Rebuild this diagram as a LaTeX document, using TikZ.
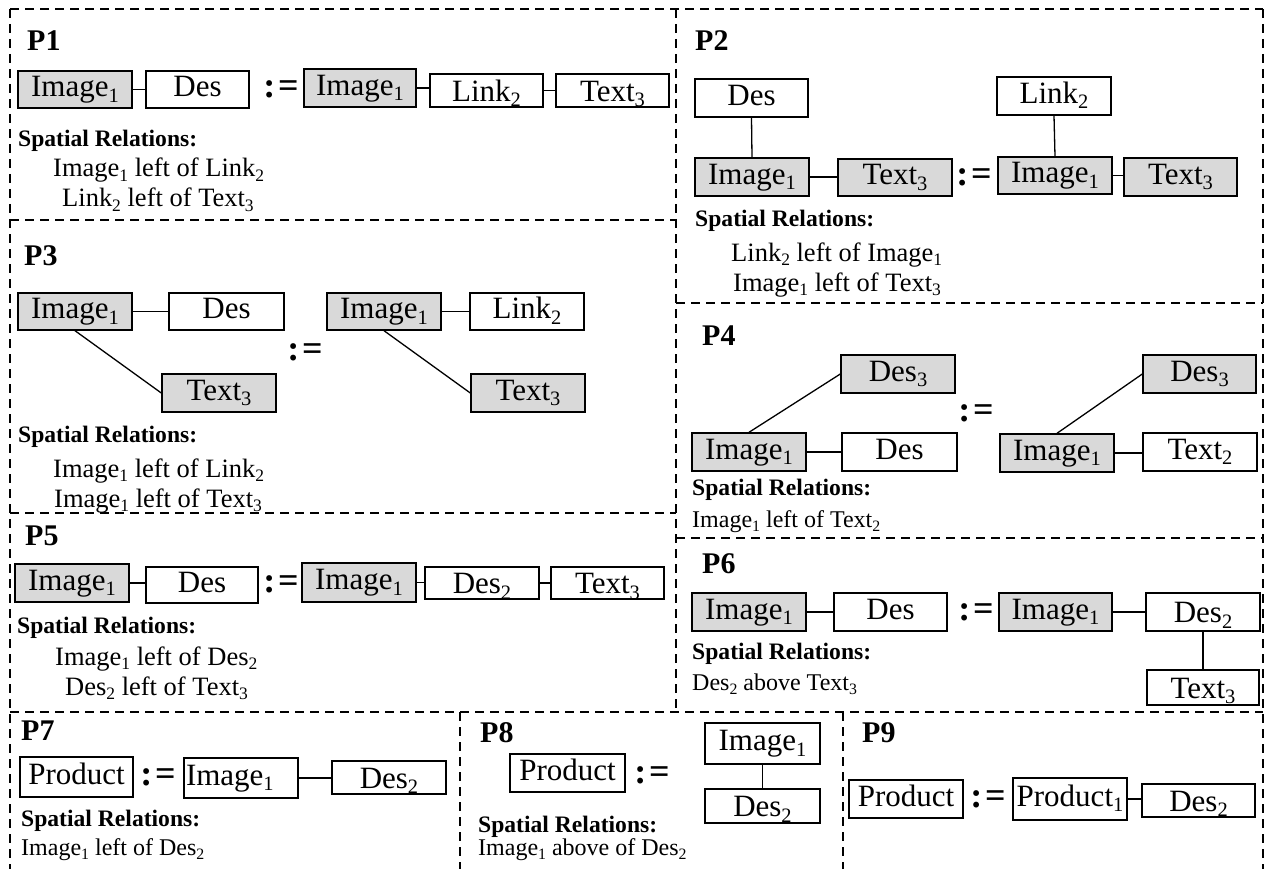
\documentclass[tikz,border=0pt]{standalone}
\usepackage{fontspec}
\setmainfont{Liberation Serif}
\usepackage{graphicx}

\definecolor{boxgray}{RGB}{217,217,217}

% lowered, reduced subscript in the text font
\newcommand\lsub[1]{\raisebox{-0.18em}{\scalebox{0.66}{#1}}}
% box node given by its corners: name, style, x1, y1, x2, y2, text
\newcommand\mkbox[7]{\node[#2, minimum width={#5-#3}, minimum height={#6-#4}] (#1) at ({(#3+#5)/2},{(#4+#6)/2}) {#7};}
% the production sign
\newcommand\prodsign{:\kern3pt=}

\tikzset{
  panelline/.style={dash pattern=on 9pt off 6pt, line width=1.3pt},
  bx/.style={draw=black, line width=1.4pt, inner sep=0pt,
             font=\fontsize{31}{31}\selectfont, text height=21.5pt, text depth=7pt},
  gbx/.style={bx, fill=boxgray},
  lowbx/.style={bx, text depth=0pt},
  conn/.style={line width=1.3pt},
  plabel/.style={anchor=base west, inner sep=0pt, font=\bfseries\fontsize{30}{30}\selectfont},
  srel/.style={anchor=base west, inner sep=0pt, font=\bfseries\fontsize{23.6}{24}\selectfont},
  rel/.style={anchor=base west, inner sep=0pt, font=\fontsize{26.5}{27}\selectfont},
  relsm/.style={anchor=base west, inner sep=0pt, font=\fontsize{24}{24}\selectfont},
  defeq/.style={inner sep=0pt, font=\bfseries\fontsize{36}{36}\selectfont},
}

\begin{document}
\begin{tikzpicture}[x=1pt, y=-1pt]
\useasboundingbox (0,0) rectangle (1266,869);
\fill[white] (0,0) rectangle (1266,869);

% ---------- panel frames ----------
\draw[panelline] (10,9) -- (1263,9);
\draw[panelline] (10,9) -- (10,869);
\draw[panelline] (1263,9) -- (1263,869);
\draw[panelline] (676,9) -- (676,712);
\draw[panelline] (10,220) -- (676,220);
\draw[panelline] (10,513) -- (676,513);
\draw[panelline] (676,303) -- (1263,303);
\draw[panelline] (676,538) -- (1263,538);
\draw[panelline] (10,712) -- (1263,712);
\draw[panelline] (460,712) -- (460,869);
\draw[panelline] (843,712) -- (843,869);

% ---------- P1 ----------
\node[plabel] (p1lab) at (27,51) {P1};
\mkbox{p1a}{gbx}{18}{71}{132}{108}{Image\lsub{1}}
\mkbox{p1b}{bx}{146}{71}{249}{108}{Des}
\node[defeq] (p1eq) at (281,89) {\prodsign};
\mkbox{p1c}{gbx}{304}{69}{416}{107}{Image\lsub{1}}
\mkbox{p1d}{lowbx}{430}{74}{543}{107}{Link\lsub{2}}
\mkbox{p1e}{lowbx}{556}{74}{669}{107}{Text\lsub{3}}
\draw[conn] (p1a.east) -- (p1a.east -| p1b.west);
\draw[conn] (p1c.east) -- (p1c.east -| p1d.west);
\draw[conn] (p1d.east) -- (p1d.east -| p1e.west);
\node[srel] (p1s) at (18,147) {Spatial Relations:};
\node[rel] (p1r1) at (53,177) {Image\lsub{1} left of Link\lsub{2}};
\node[rel] (p1r2) at (62,207) {Link\lsub{2} left of Text\lsub{3}};

% ---------- P2 ----------
\node[plabel] (p2lab) at (695,51) {P2};
\mkbox{p2a}{bx}{695}{79}{808}{117}{Des}
\mkbox{p2b}{gbx}{695}{158}{809}{196}{Image\lsub{1}}
\mkbox{p2c}{gbx}{838}{159}{952}{196}{Text\lsub{3}}
\node[defeq] (p2eq) at (974,177) {\prodsign};
\mkbox{p2d}{bx}{997}{77}{1111}{115}{Link\lsub{2}}
\mkbox{p2e}{gbx}{998}{157}{1112}{194}{Image\lsub{1}}
\mkbox{p2f}{gbx}{1124}{158}{1237}{196}{Text\lsub{3}}
\draw[conn] (p2a.south) -- (p2b.north);
\draw[conn] (p2b.east) -- (p2b.east -| p2c.west);
\draw[conn] (p2d.south) -- (p2e.north);
\draw[conn] (p2e.east) -- (p2e.east -| p2f.west);
\node[srel] (p2s) at (695,226) {Spatial Relations:};
\node[rel] (p2r1) at (731,261) {Link\lsub{2} left of Image\lsub{1}};
\node[rel] (p2r2) at (733,291) {Image\lsub{1} left of Text\lsub{3}};

% ---------- P3 ----------
\node[plabel] (p3lab) at (24,265) {P3};
\mkbox{p3a}{gbx}{18}{293}{132}{330}{Image\lsub{1}}
\mkbox{p3b}{bx}{169}{293}{284}{330}{Des}
\mkbox{p3c}{gbx}{162}{374}{276}{412}{Text\lsub{3}}
\node[defeq] (p3eq) at (305,352) {\prodsign};
\mkbox{p3d}{gbx}{327}{293}{441}{330}{Image\lsub{1}}
\mkbox{p3e}{bx}{470}{293}{584}{330}{Link\lsub{2}}
\mkbox{p3f}{gbx}{471}{374}{585}{412}{Text\lsub{3}}
\draw[conn] (p3a.east) -- (p3a.east -| p3b.west);
\draw[conn] (p3a.south) -- (p3c.west);
\draw[conn] (p3d.east) -- (p3d.east -| p3e.west);
\draw[conn] (p3d.south) -- (p3f.west);
\node[srel] (p3s) at (18,442) {Spatial Relations:};
\node[rel] (p3r1) at (53,477) {Image\lsub{1} left of Link\lsub{2}};
\node[rel] (p3r2) at (54,507) {Image\lsub{1} left of Text\lsub{3}};

% ---------- P4 ----------
\node[plabel] (p4lab) at (702,345) {P4};
\mkbox{p4a}{gbx}{841}{355}{955}{393}{Des\lsub{3}}
\mkbox{p4b}{gbx}{692}{433}{806}{471}{Image\lsub{1}}
\mkbox{p4c}{bx}{842}{433}{957}{471}{Des}
\node[defeq] (p4eq) at (976,413) {\prodsign};
\mkbox{p4d}{gbx}{1143}{355}{1256}{393}{Des\lsub{3}}
\mkbox{p4e}{gbx}{1000}{434}{1114}{472}{Image\lsub{1}}
\mkbox{p4f}{bx}{1143}{433}{1257}{471}{Text\lsub{2}}
\draw[conn] (p4b.east) -- (p4b.east -| p4c.west);
\draw[conn] (p4b.north) -- (p4a.west);
\draw[conn] (p4e.east) -- (p4e.east -| p4f.west);
\draw[conn] (p4e.north) -- (p4d.west);
\node[srel] (p4s) at (692,495) {Spatial Relations:};
\node[relsm] (p4r1) at (692,527) {Image\lsub{1} left of Text\lsub{2}};

% ---------- P5 ----------
\node[plabel] (p5lab) at (25,545) {P5};
\mkbox{p5a}{gbx}{15}{564}{129}{602}{Image\lsub{1}}
\mkbox{p5b}{bx}{146}{567}{258}{603}{Des}
\node[defeq] (p5eq) at (281,584) {\prodsign};
\mkbox{p5c}{gbx}{302}{563}{416}{602}{Image\lsub{1}}
\mkbox{p5d}{lowbx}{425}{567}{539}{599}{Des\lsub{2}}
\mkbox{p5e}{lowbx}{551}{567}{664}{599}{Text\lsub{3}}
\draw[conn] (p5a.east) -- (p5a.east -| p5b.west);
\draw[conn] (p5c.east) -- (p5c.east -| p5d.west);
\draw[conn] (p5d.east) -- (p5d.east -| p5e.west);
\node[srel] (p5s) at (17,633) {Spatial Relations:};
\node[rel] (p5r1) at (55,665) {Image\lsub{1} left of Des\lsub{2}};
\node[rel] (p5r2) at (65,695) {Des\lsub{2} left of Text\lsub{3}};

% ---------- P6 ----------
\node[plabel] (p6lab) at (702,573) {P6};
\mkbox{p6a}{gbx}{692}{593}{806}{631}{Image\lsub{1}}
\mkbox{p6b}{bx}{834}{593}{947}{631}{Des}
\node[defeq] (p6eq) at (976,612) {\prodsign};
\mkbox{p6c}{gbx}{999}{593}{1112}{631}{Image\lsub{1}}
\mkbox{p6d}{lowbx}{1146}{593}{1260}{631}{Des\lsub{2}}
\mkbox{p6e}{lowbx}{1147}{670}{1259}{705}{Text\lsub{3}}
\draw[conn] (p6a.east) -- (p6a.east -| p6b.west);
\draw[conn] (p6c.east) -- (p6c.east -| p6d.west);
\draw[conn] (p6d.south) -- (p6e.north);
\node[srel] (p6s) at (692,659) {Spatial Relations:};
\node[relsm] (p6r1) at (692,690) {Des\lsub{2} above Text\lsub{3}};

% ---------- P7 ----------
\node[plabel] (p7lab) at (21,740) {P7};
\mkbox{p7a}{bx}{20}{757}{133}{797}{Product}
\node[defeq] (p7eq) at (158,777) {\prodsign};
\mkbox{p7b}{bx, text width=110pt, align=left}{184}{758}{298}{798}{Image\lsub{1}}
\mkbox{p7c}{lowbx}{332}{761}{446}{794}{Des\lsub{2}}
\draw[conn] (p7b.east) -- (p7b.east -| p7c.west);
\node[srel] (p7s) at (21,826) {Spatial Relations:};
\node[relsm] (p7r1) at (21,855) {Image\lsub{1} left of Des\lsub{2}};

% ---------- P8 ----------
\node[plabel] (p8lab) at (480,742) {P8};
\mkbox{p8a}{bx}{510}{754}{625}{792}{Product}
\node[defeq] (p8eq) at (652,775) {\prodsign};
\mkbox{p8b}{bx}{705}{723}{820}{764}{Image\lsub{1}}
\mkbox{p8c}{lowbx}{705}{789}{820}{823}{Des\lsub{2}}
\draw[conn] (p8b.south) -- (p8c.north);
\node[srel] (p8s) at (478,832) {Spatial Relations:};
\node[relsm] (p8r1) at (478,855) {Image\lsub{1} above of Des\lsub{2}};

% ---------- P9 ----------
\node[plabel] (p9lab) at (862,742) {P9};
\mkbox{p9a}{bx}{849}{780}{963}{818}{Product}
\node[defeq] (p9eq) at (988,799) {\prodsign};
\mkbox{p9b}{bx}{1013}{778}{1127}{820}{Product\lsub{1}}
\mkbox{p9c}{lowbx}{1142}{784}{1255}{817}{Des\lsub{2}}
\draw[conn] (p9b.east) -- (p9b.east -| p9c.west);

\end{tikzpicture}
\end{document}
